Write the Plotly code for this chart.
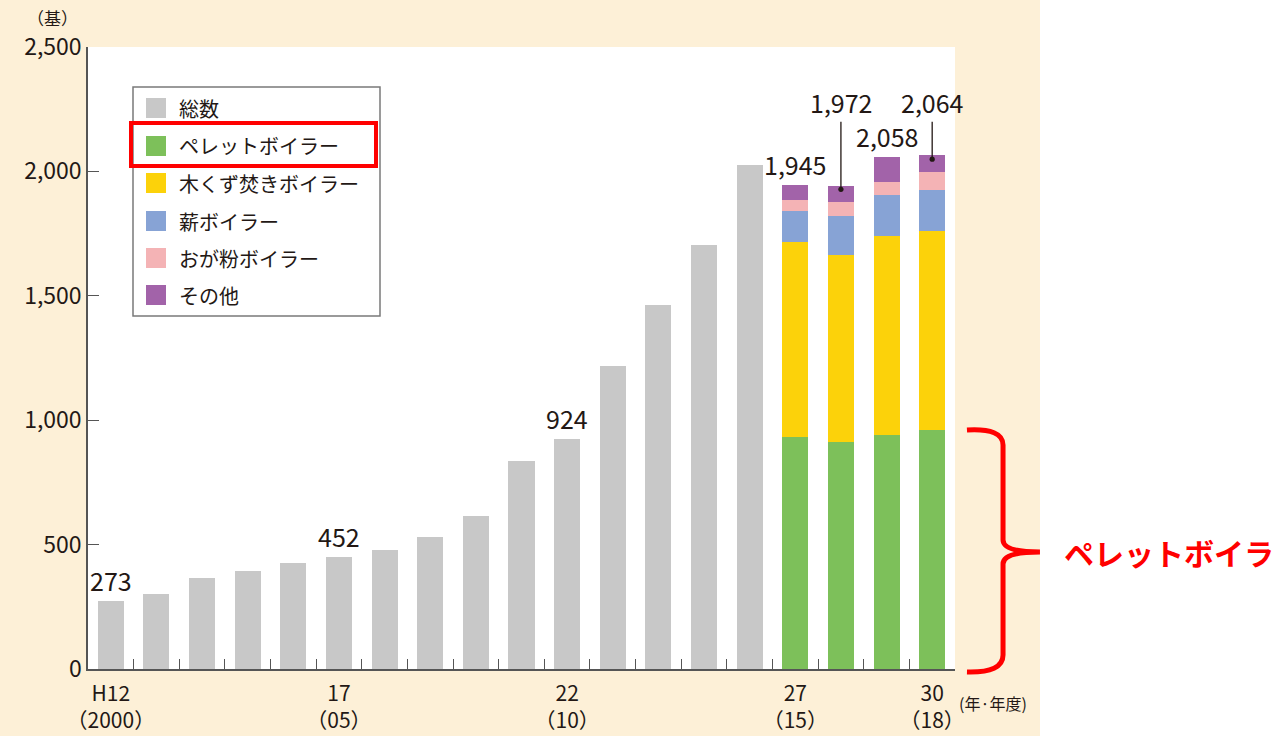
import plotly.graph_objects as go

# --- data -------------------------------------------------------------
years = ["H12", "H13", "H14", "H15", "H16", "H17", "H18", "H19", "H20", "H21",
         "H22", "H23", "H24", "H25", "H26", "H27", "H28", "H29", "H30"]
tick_text = ["H12<br>（2000）", "", "", "", "", "17<br>（05）", "", "", "", "",
             "22<br>（10）", "", "", "", "", "27<br>（15）", "", "", "30<br>（18）"]

total_years = years[:15]
total_vals = [273, 300, 365, 393, 428, 452, 477, 530, 614, 838,
              924, 1218, 1464, 1704, 2027]

detail_years = years[15:]
pellet = [933, 913, 941, 960]
wood_chip = [782, 751, 801, 799]
firewood = [126, 156, 162, 167]
sawdust = [44, 58, 52, 73]
other = [60, 62, 101, 65]

series_names = ["総数", "ペレットボイラー", "木くず焚きボイラー", "薪ボイラー", "おが粉ボイラー", "その他"]
series_colors = ["#c8c8c8", "#7dc05a", "#fcd20a", "#87a3d5", "#f4b3b5", "#a263a9"]

# labels written on the chart: (year, value, text)
plain_labels = [("H12", 273, "273"), ("H17", 452, "452"), ("H22", 924, "924"),
                ("H27", 1945, "1,945"), ("H29", 2058, "2,058")]
# labels with a leader line to a dot inside the bar: (year, dot value, text, offset px)
leader_labels = [("H28", 1928, "1,972", -87), ("H30", 2049, "2,064", -57)]

FONT = "Noto Sans CJK JP"
TXT = "#231815"

# plot area in pixels
L, R, T, B = 88, 955, 47, 669
W, H = 1280, 736


def px(x):
    return (x - L) / (R - L)


def py(y):
    return (B - y) / (B - T)


fig = go.Figure()

fig.add_trace(go.Bar(x=total_years, y=total_vals, name=series_names[0],
                     marker_color=series_colors[0], marker_line_width=0))
for name, color, vals in zip(series_names[1:], series_colors[1:],
                             [pellet, wood_chip, firewood, sawdust, other]):
    fig.add_trace(go.Bar(x=detail_years, y=vals, name=name,
                         marker_color=color, marker_line_width=0))

shapes = []
# beige page background and white plot panel
shapes.append(dict(type="rect", xref="paper", yref="paper", layer="below",
                   x0=px(0), x1=px(1040), y0=py(H), y1=py(0),
                   fillcolor="#fdf0d7", line_width=0))
shapes.append(dict(type="rect", xref="paper", yref="paper", layer="below",
                   x0=0, x1=1, y0=0, y1=1, fillcolor="white", line_width=0))

# hand-drawn legend box
shapes.append(dict(type="rect", xref="paper", yref="paper",
                   x0=px(133), x1=px(380), y0=py(316), y1=py(87),
                   fillcolor="white", line=dict(color="#7a7a7a", width=1.5)))
row_y = [108, 146, 183, 221, 258, 295]
annotations = []
for name, color, ry in zip(series_names, series_colors, row_y):
    shapes.append(dict(type="rect", xref="paper", yref="paper",
                       x0=px(146), x1=px(166), y0=py(ry + 10), y1=py(ry - 10),
                       fillcolor=color, line_width=0))
    annotations.append(dict(xref="paper", yref="paper", x=px(177), y=py(ry),
                            text=name, showarrow=False, xanchor="left", yanchor="middle",
                            font=dict(family=FONT, size=20, color=TXT)))

# red highlight around the pellet legend row
shapes.append(dict(type="rect", xref="paper", yref="paper",
                   x0=px(131), x1=px(376), y0=py(166), y1=py(123),
                   line=dict(color="#ff0000", width=4)))

# red curly bracket
pts = [(967, 430), (1003, 428), (1003, 445), (1003, 540), (1003, 552), (1040, 552),
       (1003, 552), (1003, 564), (1003, 655), (1003, 673), (967, 672)]
p = [f"{px(a):.4f},{py(b):.4f}" for a, b in pts]
path = (f"M {p[0]} Q {p[1]} {p[2]} L {p[3]} Q {p[4]} {p[5]} "
        f"Q {p[6]} {p[7]} L {p[8]} Q {p[9]} {p[10]}")
shapes.append(dict(type="path", xref="paper", yref="paper", path=path,
                   line=dict(color="#ff0000", width=5)))

annotations.append(dict(xref="paper", yref="paper", x=px(1062), y=py(552),
                        text="<b>ペレットボイラ</b>", showarrow=False,
                        xanchor="left", yanchor="middle",
                        font=dict(family=FONT, size=30, color="#ff0000")))

# value labels
for yr, v, t in plain_labels:
    annotations.append(dict(x=yr, y=v, text=t, showarrow=False, yanchor="bottom",
                            yshift=1, font=dict(family=FONT, size=25, color=TXT)))
for yr, v, t, off in leader_labels:
    annotations.append(dict(x=yr, y=v, text=t, showarrow=True, ax=0, ay=off,
                            arrowhead=6, arrowsize=1, arrowwidth=1.3,
                            arrowcolor=TXT, standoff=0,
                            font=dict(family=FONT, size=25, color=TXT)))

# unit labels
annotations.append(dict(xref="paper", yref="paper", x=px(52), y=py(17), text="（基）",
                        showarrow=False, xanchor="center", yanchor="middle",
                        font=dict(family=FONT, size=17, color=TXT)))
annotations.append(dict(xref="paper", yref="paper", x=px(957), y=py(703),
                        text="(年·年度)", showarrow=False, xanchor="left", yanchor="middle",
                        font=dict(family=FONT, size=16, color=TXT)))

fig.update_yaxes(range=[0, 2500], dtick=500, tickformat=",d", showgrid=False,
                 zeroline=False, showline=True, linecolor="#555555", linewidth=1.5,
                 ticks="inside", ticklen=11, tickcolor="#555555", tickwidth=1.3,
                 automargin=False,
                 tickfont=dict(family=FONT, size=23, color=TXT))
fig.update_xaxes(type="category", categoryorder="array", categoryarray=years,
                 range=[-0.5, 18.5], tickmode="array", tickvals=years, ticktext=tick_text,
                 tickson="boundaries", ticks="inside", ticklen=10, tickcolor="#555555",
                 tickwidth=1.3, showline=True, linecolor="#555555", linewidth=1.5,
                 showgrid=False, tickangle=0, ticklabelstandoff=5, automargin=False,
                 tickfont=dict(family=FONT, size=21, color=TXT))

fig.update_layout(
    width=W, height=H,
    barmode="stack", bargap=0.43,
    showlegend=False,
    paper_bgcolor="white", plot_bgcolor="rgba(0,0,0,0)",
    margin=dict(l=L, r=W - R, t=T, b=H - B),
    font=dict(family=FONT, color=TXT),
    shapes=shapes, annotations=annotations,
)

fig.write_html("out.html", config={"displayModeBar": False},
               post_script="document.body.style.margin='0';")
